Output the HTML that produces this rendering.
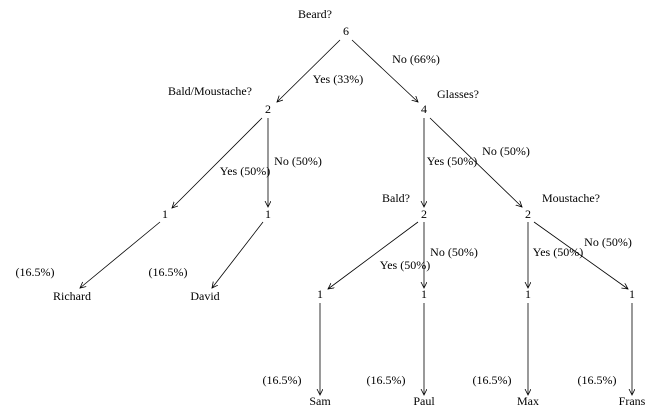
<!DOCTYPE html>
<html><head><meta charset="utf-8"><style>
html,body{margin:0;padding:0;background:#fff;}
svg{display:block;}
text{font-family:"Liberation Serif",serif;font-size:12px;fill:#000;}
line{stroke:#000;stroke-width:0.8;}
</style></head><body>
<svg width="659" height="417" viewBox="0 0 659 417" xmlns="http://www.w3.org/2000/svg">
<defs><marker id="a" markerWidth="8" markerHeight="8" refX="6" refY="3" orient="auto" markerUnits="userSpaceOnUse"><path d="M0,0 L6,3 L0,6" fill="none" stroke="#000" stroke-width="0.8"/></marker></defs>
<g marker-end="url(#a)">
<line x1="340" y1="40" x2="277" y2="102"/>
<line x1="352" y1="40" x2="418" y2="102"/>
<line x1="262" y1="118" x2="172" y2="208"/>
<line x1="268" y1="118" x2="268" y2="207"/>
<line x1="424" y1="118" x2="424" y2="207"/>
<line x1="430" y1="118" x2="522" y2="207"/>
<line x1="160" y1="222" x2="80" y2="288"/>
<line x1="263" y1="222" x2="212" y2="288"/>
<line x1="418" y1="222" x2="328" y2="289"/>
<line x1="424" y1="222" x2="424" y2="288"/>
<line x1="528" y1="222" x2="528" y2="288"/>
<line x1="534" y1="222" x2="628" y2="289"/>
<line x1="320" y1="303" x2="320" y2="395"/>
<line x1="424" y1="303" x2="424" y2="395"/>
<line x1="528" y1="303" x2="528" y2="395"/>
<line x1="632" y1="303" x2="632" y2="395"/>
</g>
<g text-anchor="middle" dominant-baseline="middle">
<text x="315" y="15">Beard?</text>
<text x="346" y="32">6</text>
<text x="210" y="92">Bald/Moustache?</text>
<text x="458" y="95">Glasses?</text>
<text x="338" y="80">Yes (33%)</text>
<text x="416" y="60">No (66%)</text>
<text x="268" y="110">2</text>
<text x="424" y="110">4</text>
<text x="245" y="172">Yes (50%)</text>
<text x="298" y="162">No (50%)</text>
<text x="452" y="162">Yes (50%)</text>
<text x="506" y="152">No (50%)</text>
<text x="396" y="199">Bald?</text>
<text x="571" y="199">Moustache?</text>
<text x="165" y="215">1</text>
<text x="268" y="215">1</text>
<text x="424" y="215">2</text>
<text x="528" y="215">2</text>
<text x="35" y="273">(16.5%)</text>
<text x="168" y="273">(16.5%)</text>
<text x="72" y="297">Richard</text>
<text x="205" y="297">David</text>
<text x="405" y="266">Yes (50%)</text>
<text x="454" y="253">No (50%)</text>
<text x="558" y="253">Yes (50%)</text>
<text x="608" y="243">No (50%)</text>
<text x="320" y="295">1</text>
<text x="424" y="295">1</text>
<text x="528" y="295">1</text>
<text x="632" y="295">1</text>
<text x="282" y="381">(16.5%)</text>
<text x="386" y="381">(16.5%)</text>
<text x="492" y="381">(16.5%)</text>
<text x="597" y="381">(16.5%)</text>
<text x="320" y="402">Sam</text>
<text x="424" y="402">Paul</text>
<text x="528" y="402">Max</text>
<text x="632" y="402">Frans</text>
</g>
</svg>
</body></html>
